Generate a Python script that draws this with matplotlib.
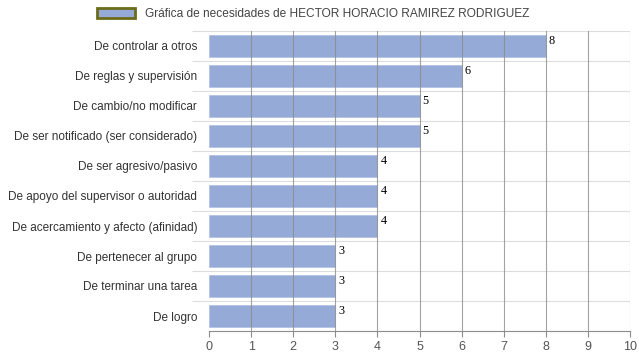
import matplotlib.pyplot as plt
from matplotlib.patches import Patch

categorias = ['De controlar a otros', 'De reglas y supervisión', 'De cambio/no modificar',
              'De ser notificado (ser considerado)', 'De ser agresivo/pasivo',
              'De apoyo del supervisor o autoridad', 'De acercamiento y afecto (afinidad)',
              'De pertenecer al grupo', 'De terminar una tarea', 'De logro']
valores = [8, 6, 5, 5, 4, 4, 4, 3, 3, 3]
titulo_serie = 'Gráfica de necesidades de HECTOR HORACIO RAMIREZ RODRIGUEZ'

plt.rcParams['font.family'] = ['Liberation Sans', 'DejaVu Sans']

fig = plt.figure(figsize=(6.39, 3.6), dpi=100)
ax = fig.add_axes([209 / 639, 1 - 331 / 360, 421 / 639, 300 / 360])

n = len(categorias)
pos = list(range(n))
ax.barh(pos, valores, height=0.74, color='#95aad6', edgecolor='#b4c3e3', linewidth=0.6, zorder=2)

for p, v in zip(pos, valores):
    ax.text(v + 0.07, p - 0.16, str(v), family='Liberation Serif', fontsize=8.8,
            color='black', ha='left', va='center', zorder=4)

ax.set_xlim(0, 10)
ax.set_ylim(n - 0.5, -0.5)
ax.set_xticks(range(11))
ax.set_yticks(pos)
ax.set_yticklabels(categorias)

# lineas verticales sobre las barras
for x in range(1, 11):
    ax.axvline(x, color='#8c8c8c', linewidth=0.8, alpha=0.8, zorder=3)
# separadores horizontales
for i in range(n):
    ax.axhline(i - 0.5, color='#dddddd', linewidth=0.8, zorder=1)
ax.set_yticks([i - 0.5 for i in range(n)], minor=True)
ax.tick_params(axis='y', which='minor', length=12, color='#dddddd', width=0.8)
ax.tick_params(axis='y', which='major', length=0, pad=8.5, labelsize=8.5, labelcolor='#333333')
ax.tick_params(axis='x', length=4, color='#8c8c8c', labelsize=9, labelcolor='#555555', pad=3)

for s in ['top', 'right', 'left']:
    ax.spines[s].set_visible(False)
ax.spines['bottom'].set_color('#8c8c8c')
ax.spines['bottom'].set_zorder(5)

leyenda = [Patch(facecolor='#95aad6', edgecolor='#6b6b1a', linewidth=2, label=titulo_serie)]
fig.legend(handles=leyenda, loc='center', bbox_to_anchor=(0.49, 0.96), frameon=False,
           fontsize=8.6, handlelength=3.2, handleheight=0.9, labelcolor='#444444')

fig.savefig('out.png', dpi=100)
